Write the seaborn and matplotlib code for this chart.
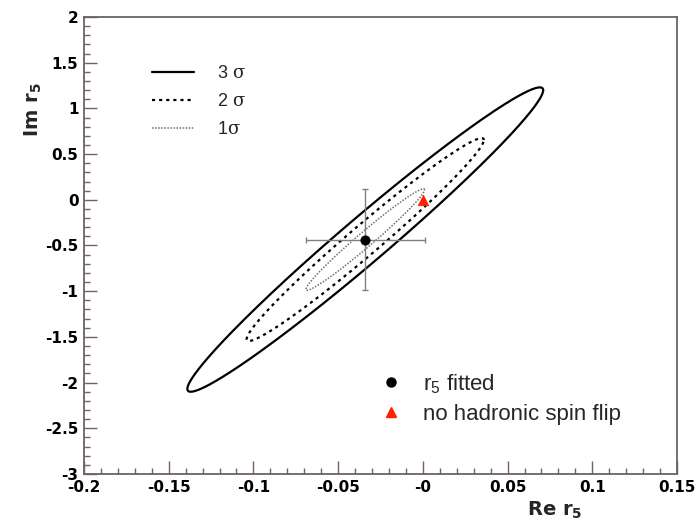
import numpy as np
import pandas as pd
import matplotlib
matplotlib.use("Agg")
import matplotlib.pyplot as plt
from matplotlib.lines import Line2D
import seaborn as sns

# ---- data ----
fit_center = [-0.034, -0.435]          # fitted (Re r5, Im r5)
fit_sigma = [0.035, 0.555]             # 1-sigma errors
fit_rho = 0.981                        # correlation
contour_levels = [3, 2, 1]
contour_labels = ["3 $\\mathrm{\\sigma}$", "2 $\\mathrm{\\sigma}$", "1$\\mathrm{\\sigma}$"]
nospin_point = [0.0, 0.0]
x_ticks = [-0.2, -0.15, -0.1, -0.05, 0.0, 0.05, 0.1, 0.15]
x_ticklabels = ["-0.2", "-0.15", "-0.1", "-0.05", "-0", "0.05", "0.1", "0.15"]
y_ticks = [-3, -2.5, -2, -1.5, -1, -0.5, 0, 0.5, 1, 1.5, 2]
y_ticklabels = ["-3", "-2.5", "-2", "-1.5", "-1", "-0.5", "0", "0.5", "1", "1.5", "2"]

sns.set_theme(style="white")
plt.rcParams["font.family"] = ["DejaVu Sans"]
plt.rcParams["mathtext.fontset"] = "custom"
plt.rcParams["mathtext.rm"] = "DejaVu Serif"
plt.rcParams["mathtext.bf"] = "DejaVu Sans:bold"
plt.rcParams["mathtext.sf"] = "Liberation Sans"

# contour points from fit parameters
t = np.linspace(0, 2 * np.pi, 400)
rows = []
for k in contour_levels:
    xs = fit_center[0] + k * fit_sigma[0] * np.cos(t)
    ys = fit_center[1] + k * fit_sigma[1] * (fit_rho * np.cos(t) + np.sqrt(1 - fit_rho**2) * np.sin(t))
    for i, (a, b) in enumerate(zip(xs, ys)):
        rows.append({"re": a, "im": b, "level": k, "order": i})
df = pd.DataFrame(rows)

fig = plt.figure(figsize=(6.98, 5.23), dpi=100)
ax = fig.add_axes([84 / 698, 1 - 474 / 523, 593 / 698, 457 / 523])

styles = {3: dict(color="black", lw=1.6, ls="-"),
          2: dict(color="black", lw=1.6, ls=(0, (1.4, 1.8))),
          1: dict(color="#6f6f6f", lw=1.1, ls=(0, (1, 1)))}
for k in contour_levels:
    sub = df[df["level"] == k]
    sns.lineplot(data=sub, x="re", y="im", sort=False, estimator=None, ax=ax,
                 color=styles[k]["color"], lw=styles[k]["lw"], linestyle=styles[k]["ls"])

ax.errorbar(fit_center[0], fit_center[1], xerr=fit_sigma[0], yerr=fit_sigma[1],
            fmt="none", ecolor="#808080", elinewidth=1.0, capsize=2, capthick=1.0, zorder=3)
sns.scatterplot(x=[fit_center[0]], y=[fit_center[1]], marker="o", s=45, color="black",
                edgecolor="black", ax=ax, zorder=4)
sns.scatterplot(x=[nospin_point[0]], y=[nospin_point[1]], marker="^", s=55, color="#ff2200",
                edgecolor="#ff2200", ax=ax, zorder=4)

ax.set_xlim(-0.2, 0.15)
ax.set_ylim(-3, 2)
ax.set_xticks(x_ticks)
ax.set_xticklabels(x_ticklabels)
ax.set_yticks(y_ticks)
ax.set_yticklabels(y_ticklabels)
ax.set_xticks(np.round(np.arange(-0.2, 0.1501, 0.01), 3), minor=True)
ax.set_yticks(np.round(np.arange(-3, 2.001, 0.1), 2), minor=True)

spine_c = "#6e6262"
for s in ax.spines.values():
    s.set_color(spine_c)
    s.set_linewidth(1.3)
ax.tick_params(which="both", direction="in", colors=spine_c, top=False, right=False,
               bottom=True, left=True, width=1.0)
ax.tick_params(which="major", length=9.5, pad=4)
ax.tick_params(which="minor", length=4.5)
for lab in ax.get_xticklabels() + ax.get_yticklabels():
    lab.set_color("black")
    lab.set_fontweight("bold")
    lab.set_fontsize(11)

ax.set_xlabel("Re r$_\\mathbf{5}$", fontsize=14, fontweight="bold", loc="right")
ax.xaxis.set_label_coords((582 - 84) / 593, (474 - 500) / 457)
ax.set_ylabel("Im r$_\\mathbf{5}$", fontsize=14, fontweight="bold", loc="top")
ax.yaxis.set_label_coords((44 - 84) / 593, (474 - 82) / 457)

h1 = [Line2D([], [], **styles[k]) for k in contour_levels]
leg1 = ax.legend(h1, contour_labels, loc="upper left", bbox_to_anchor=((152 - 84) / 593, (474 - 65) / 457),
                 frameon=False, prop={"family": "Liberation Sans", "size": 13},
                 handlelength=2.3, handletextpad=1.3,
                 labelspacing=0.62, borderpad=0, borderaxespad=0)
ax.add_artist(leg1)

h2 = [Line2D([], [], ls="none", marker="o", ms=6.5, color="black"),
      Line2D([], [], ls="none", marker="^", ms=7, color="#ff2200")]
leg2 = ax.legend(h2, ["r$_\\mathsf{5}$ fitted", "no hadronic spin flip"], loc="upper left",
                 bbox_to_anchor=((381 - 84) / 593, (474 - 372) / 457), frameon=False,
                 prop={"family": "Liberation Sans", "size": 16},
                 handlelength=0.9, handletextpad=1.0, labelspacing=0.38, borderpad=0, borderaxespad=0)

fig.savefig("out.png", dpi=100)
